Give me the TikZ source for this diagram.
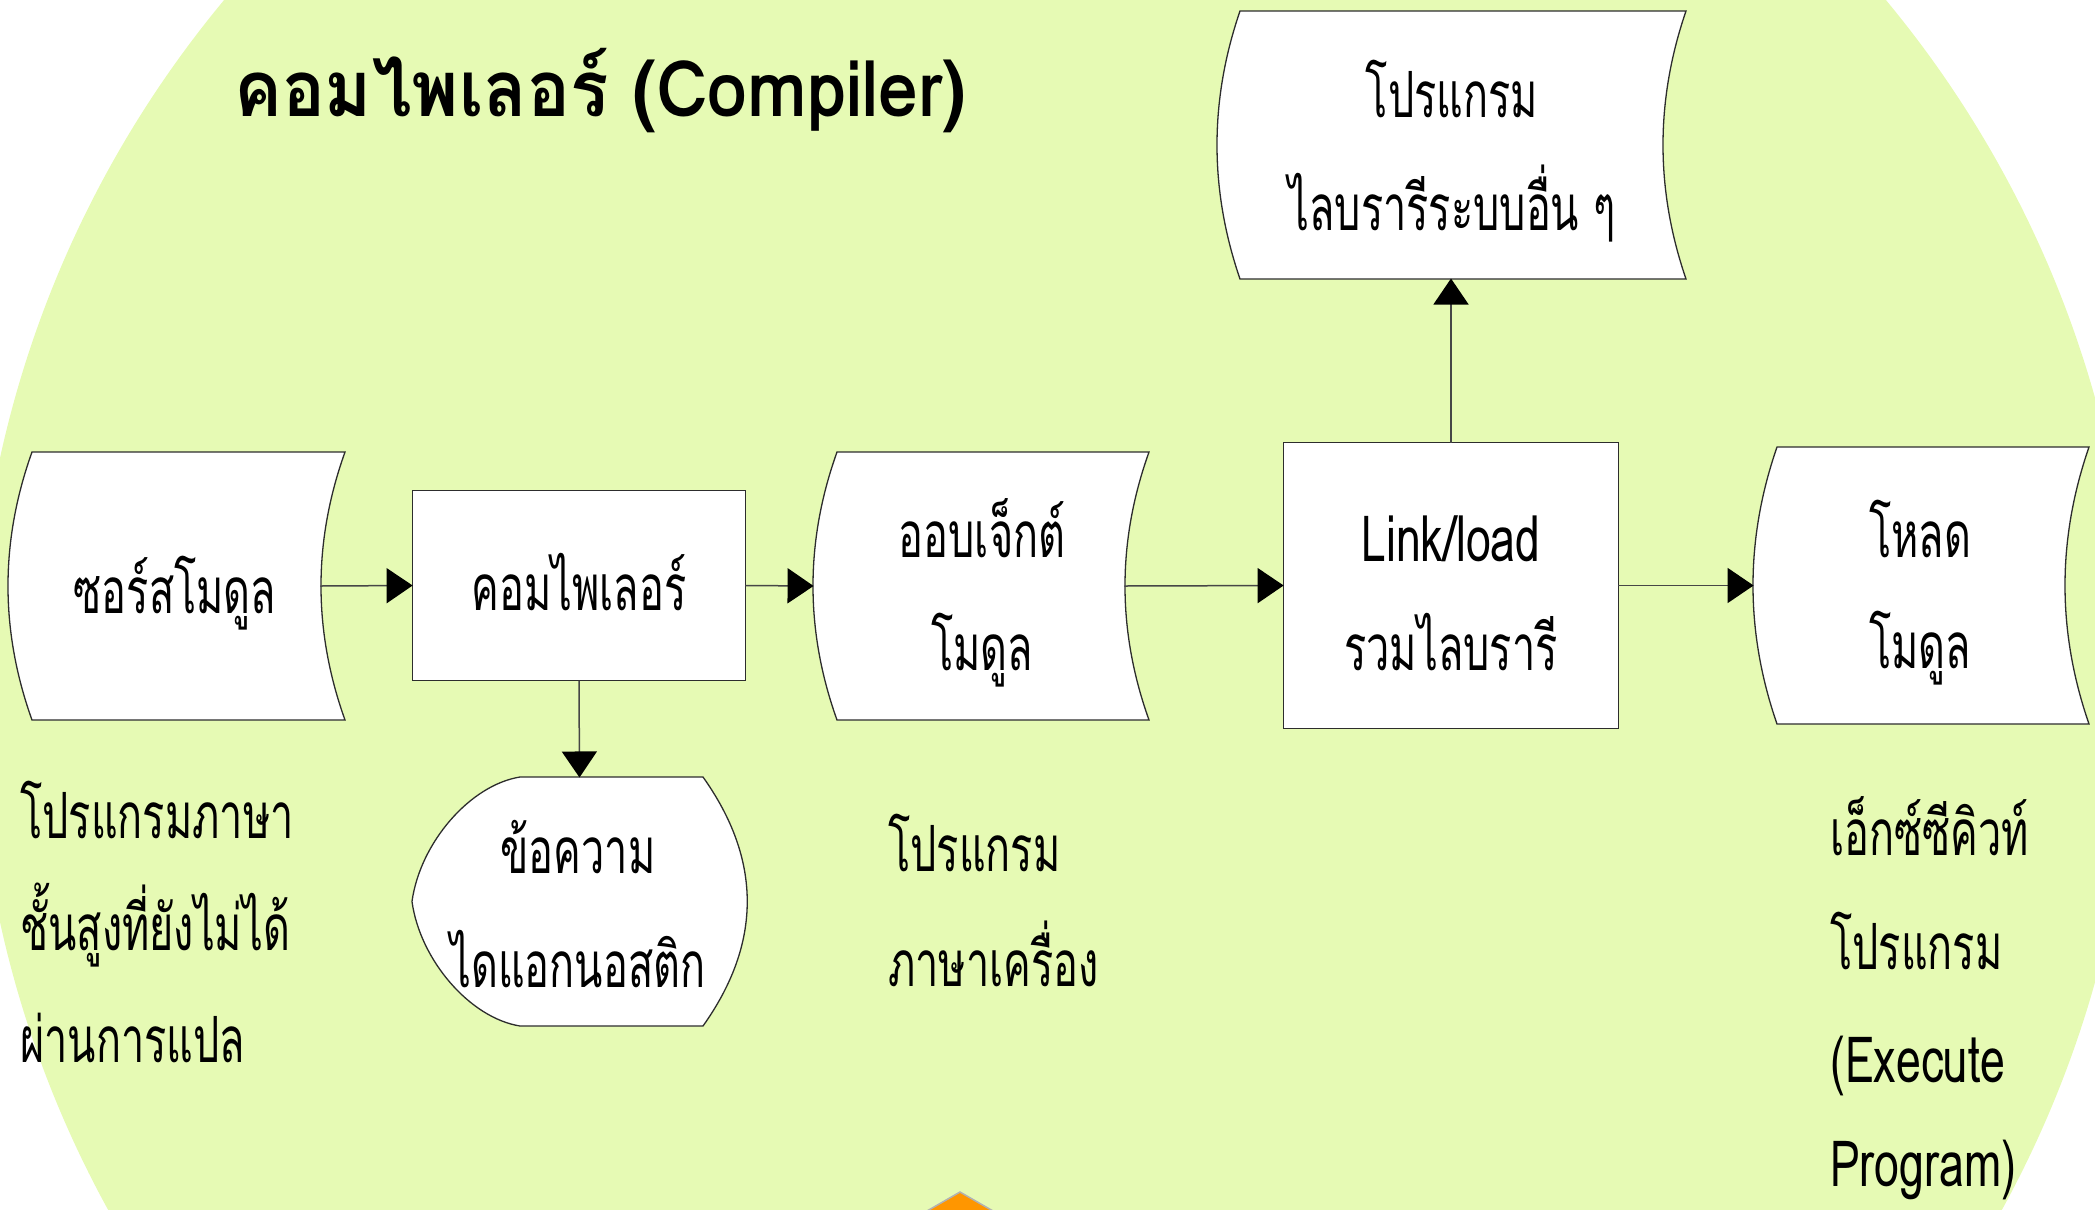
\documentclass[tikz,border=0pt]{standalone}
\usepackage{fontspec}
\usetikzlibrary{arrows.meta,calc}
\newfontfamily\thaibody[Script=Thai,FakeStretch=0.65]{Loma}
\newfontfamily\latinbody[Script=Thai,FakeStretch=0.70]{Loma}
\newfontfamily\thaititle[Script=Thai,FakeStretch=0.92]{Loma}
\newcommand\mybodyfont{\thaibody\fontsize{64}{76}\selectfont}
\newcommand\mylatinfont{\latinbody\fontsize{64}{76}\selectfont}
\newcommand\mytitlefont{\thaititle\bfseries\fontsize{78}{90}\selectfont}
\definecolor{bggreen}{RGB}{230,250,180}
\definecolor{edgegray}{RGB}{45,45,45}
\definecolor{conngray}{RGB}{70,70,70}
\definecolor{orangeA}{RGB}{255,150,0}
\tikzset{
  shapeframe/.style={draw=edgegray,fill=white,line width=1.3bp},
  geom/.style={rectangle,inner sep=0pt,outer sep=0pt,draw=none},
  boxnode/.style={rectangle,inner sep=0pt,outer sep=0pt,draw=edgegray,fill=white,line width=1.3bp},
  conn/.style={draw=conngray,line width=1.5bp,-{Triangle[length=26bp,width=35bp,color=black,fill=black]}},
  ctxt/.style={font=\mybodyfont,inner sep=0pt,anchor=base},
  ntxt/.style={font=\mybodyfont,inner sep=0pt,anchor=base west},
}
% stored-data outline: L R top bottom bulge
\newcommand\storedshape[5]{%
  \path[shapeframe] ({#1+#5},#3) -- ({#2+#5},#3)
    .. controls ({#2-#5/3},{#3+(#4-#3)/3}) and ({#2-#5/3},{#3+2*(#4-#3)/3}) .. ({#2+#5},#4)
    -- ({#1+#5},#4)
    .. controls ({#1-#5/3},{#3+2*(#4-#3)/3}) and ({#1-#5/3},{#3+(#4-#3)/3}) .. cycle;}
\begin{document}
\begin{tikzpicture}[x=1bp,y=-1bp]
\useasboundingbox (0,0) rectangle (2095,1209);
\begin{scope}
  \clip (0,0) rectangle (2095,1209);
  \fill[bggreen] (1055,690) circle[radius=1080];
  \path[fill=orangeA,draw=black!30,line width=1.5bp] (920,1215) -- (960,1192) -- (1000,1215);
\end{scope}

% title
\node[font=\mytitlefont,inner sep=0pt,anchor=base west] (title) at (234,116) {คอมไพเลอร์ (Compiler)};

% shapes
\storedshape{8}{321}{452}{720}{24}
\node[geom,minimum width=313,minimum height=268] (src) at (164.5,586) {};
\storedshape{813}{1125}{452}{720}{24}
\node[geom,minimum width=312,minimum height=268] (obj) at (969,586) {};
\storedshape{1217}{1663}{11}{279}{23}
\node[geom,minimum width=446,minimum height=268] (lib) at (1440,145) {};
\storedshape{1753}{2065}{447}{724}{24}
\node[geom,minimum width=312,minimum height=277] (load) at (1909,585.5) {};

\node[boxnode,minimum width=334,minimum height=191] (comp) at (579,585.5) {};
\node[boxnode,minimum width=336,minimum height=287] (link) at (1451,585.5) {};

% display shape
\path[shapeframe] (520,777) -- (703,777)
  .. controls (762,860) and (762,943) .. (703,1026)
  -- (520,1026)
  .. controls (470,1018) and (420,960) .. (412,901.5)
  .. controls (420,843) and (470,785) .. cycle;
\node[geom,minimum width=335,minimum height=249] (diag) at (579.5,901.5) {};

% texts in shapes
\node[ctxt] (srct) at (175,613) {ซอร์สโมดูล};
\node[ctxt] (compt) at (579,610) {คอมไพเลอร์};
\node[ctxt] (objt1) at (982,557) {ออบเจ็กต์};
\node[ctxt] (objt2) at (982,670) {โมดูล};
\node[ctxt,font=\mylatinfont] (linkt1) at (1451,561) {Link/load};
\node[ctxt] (linkt2) at (1451,670) {รวมไลบรารี};
\node[ctxt] (libt1) at (1452,117) {โปรแกรม};
\node[ctxt] (libt2) at (1452,230) {ไลบรารีระบบอื่น ๆ};
\node[ctxt] (loadt1) at (1920,557) {โหลด};
\node[ctxt] (loadt2) at (1920,668) {โมดูล};
\node[ctxt] (diagt1) at (578,873) {ข้อความ};
\node[ctxt] (diagt2) at (578,987) {ไดแอกนอสติก};

% notes below
\node[ntxt] (n1a) at (20,838) {โปรแกรมภาษา};
\node[ntxt] (n1b) at (20,950) {ชั้นสูงที่ยังไม่ได้};
\node[ntxt] (n1c) at (20,1062) {ผ่านการแปล};
\node[ntxt] (n2a) at (888,871) {โปรแกรม};
\node[ntxt] (n2b) at (888,986) {ภาษาเครื่อง};
\node[ntxt] (n3a) at (1830,855) {เอ็กซ์ซีคิวท์};
\node[ntxt] (n3b) at (1830,969) {โปรแกรม};
\node[ntxt,font=\mylatinfont] (n3c) at (1830,1082) {(Execute};
\node[ntxt,font=\mylatinfont] (n3d) at (1830,1186) {Program)};

% connectors
\draw[conn] (src.east) -- (comp.west);
\draw[conn] (comp.east) -- (obj.west);
\draw[conn] (obj.east) -- (link.west);
\draw[conn] (link.east) -- (load.west);
\draw[conn] (link.north) -- (link.north |- lib.south);
\draw[conn] (comp.south) -- (diag.north);
\end{tikzpicture}
\end{document}
